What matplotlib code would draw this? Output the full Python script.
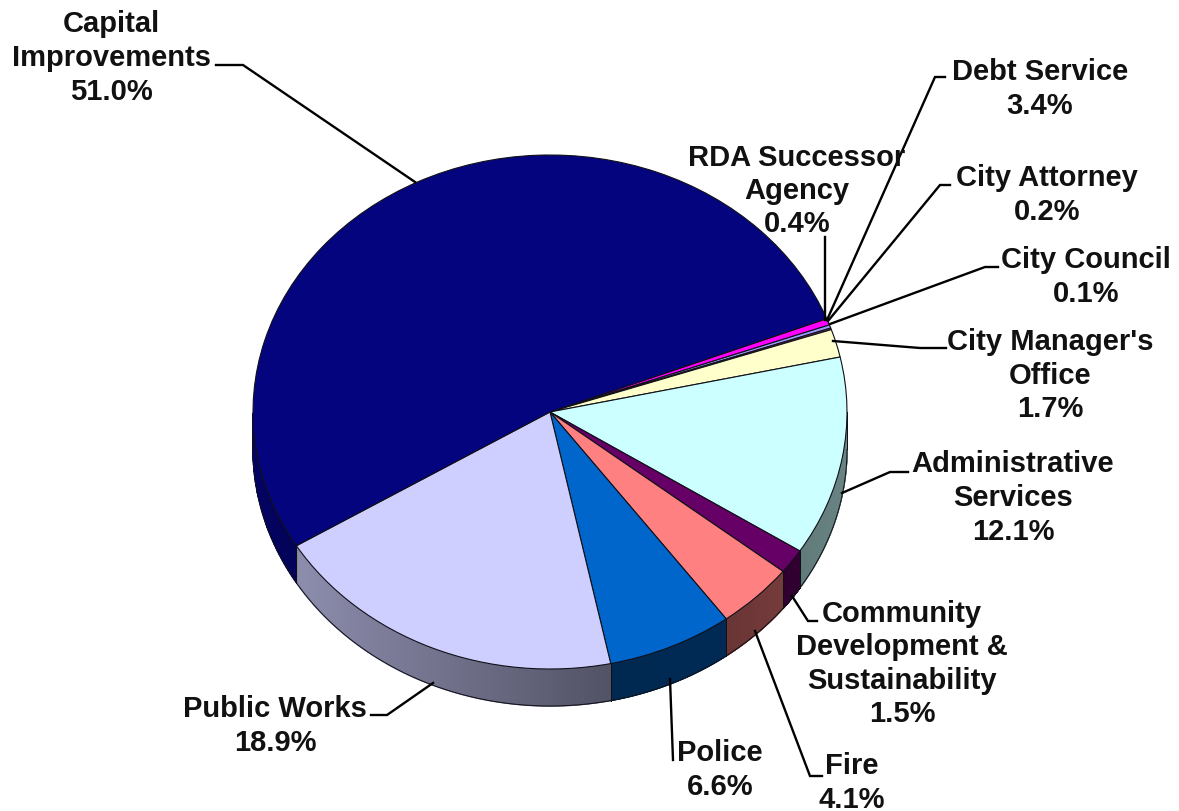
"""
Budget by department, drawn as a tilted pie with a shaded rim.
Run: python3 plot.py
"""

import numpy as np
import matplotlib
matplotlib.use("Agg")
import matplotlib.pyplot as plt
from matplotlib.collections import PolyCollection
from matplotlib.colors import to_rgb
from matplotlib.transforms import Affine2D

WIDTH, HEIGHT = 1179, 812

# Clockwise from the top of the Capital Improvements wedge.
# Debt Service is labelled at 3.4% but has no wedge on this pie.
departments = ["RDA Successor Agency", "City Attorney", "City Council",
               "City Manager's Office", "Administrative Services",
               "Community Development & Sustainability", "Fire", "Police",
               "Public Works", "Capital Improvements"]
percents = [0.4, 0.2, 0.1, 1.7, 12.1, 1.5, 4.1, 6.6, 18.9, 51.0]
colors = ["#FF00FF", "#9999FF", "#993366", "#FFFFCC", "#CCFFFF",
          "#660066", "#FF8080", "#0066CC", "#CFCFFF", "#04047F"]

label_text = ["Capital\nImprovements\n51.0%", "Debt Service\n3.4%",
              "RDA Successor\nAgency\n0.4%", "City Attorney\n0.2%",
              "City Council\n0.1%", "City Manager's\nOffice\n1.7%",
              "Administrative\nServices\n12.1%",
              "Community\nDevelopment &\nSustainability\n1.5%",
              "Fire\n4.1%", "Police\n6.6%", "Public Works\n18.9%"]
label_x = [111, 1040, 797, 1047, 1086, 1050, 1013, 902, 852, 720, 275]
label_y = [58, 89, 191, 195, 277, 376, 498, 664, 783, 770, 726]

leaders = [
    [(216, 66), (243, 66), (415, 183)],
    [(945, 78), (935, 78), (827, 321)],
    [(825, 238), (825, 321)],
    [(950, 186), (940, 186), (828, 322)],
    [(998, 268), (985, 268), (830, 325)],
    [(946, 349), (920, 349), (833, 342)],
    [(908, 473), (890, 473), (842, 494)],
    [(817, 622), (808, 622), (792, 597)],
    [(822, 777), (810, 777), (755, 632)],
    [(673, 761), (670, 680)],
    [(371, 716), (387, 716), (433, 684)],
]

# pie geometry in pixels
CX, CY, RX, RY = 550, 413, 297, 257
DEPTH = 37
START_ANGLE = 21.3

plt.rcParams["font.family"] = ["Liberation Sans", "DejaVu Sans"]

fig = plt.figure(figsize=(WIDTH / 100, HEIGHT / 100), dpi=100)
ax = fig.add_axes([0, 0, 1, 1])

wedges, _ = ax.pie(percents, colors=colors, startangle=START_ANGLE,
                   counterclock=False, radius=1,
                   wedgeprops={"edgecolor": "#101018", "linewidth": 0.8, "zorder": 3})

# unit circle in data space, squashed by the axes limits
ax.set_aspect("auto")
ax.set_xlim(-CX / RX, (WIDTH - CX) / RX)
ax.set_ylim((CY - HEIGHT) / RY, CY / RY)
ax.set_axis_off()

depth = DEPTH / RY


def rim_shade(x):
    # rim brightness falls off from the left edge towards the front
    px = CX + x * RX
    return np.interp(px, [250, 298, 610, 725, 850], [0.82, 0.68, 0.40, 0.41, 0.52])


for wedge, color in zip(wedges, colors):
    t = np.radians(np.linspace(wedge.theta1, wedge.theta2, 240))
    t = t[np.sin(t) <= 0]
    if len(t) < 2:
        continue
    xs, ys = np.cos(t), np.sin(t)
    strips, shades = [], []
    for i in range(len(t) - 1):
        strips.append([(xs[i], ys[i]), (xs[i + 1], ys[i + 1]),
                       (xs[i + 1], ys[i + 1] - depth), (xs[i], ys[i] - depth)])
        shade = rim_shade((xs[i] + xs[i + 1]) / 2)
        shades.append(tuple(c * shade for c in to_rgb(color)))
    ax.add_collection(PolyCollection(strips, facecolors=shades, edgecolors="face",
                                     linewidths=1.0, zorder=1))
    ax.plot(xs, ys - depth, color="#101018", lw=0.7, zorder=2)
    for end in (0, -1):
        ax.plot([xs[end], xs[end]], [ys[end], ys[end] - depth],
                color="#101018", lw=0.7, zorder=2)

# leaders and labels are placed in pixel coordinates
pixels = Affine2D().scale(1 / WIDTH, -1 / HEIGHT).translate(0, 1) + fig.transFigure

for points in leaders:
    px, py = zip(*points)
    ax.plot(px, py, color="black", lw=1.7, transform=pixels, zorder=4,
            solid_joinstyle="miter", clip_on=False)

for text, x, y in zip(label_text, label_x, label_y):
    ax.text(x, y, text, transform=pixels, ha="center", va="center", ma="center",
            fontsize=21, fontweight="bold", color="#111111", linespacing=1.25, zorder=5)

fig.savefig("out.png", dpi=100)
